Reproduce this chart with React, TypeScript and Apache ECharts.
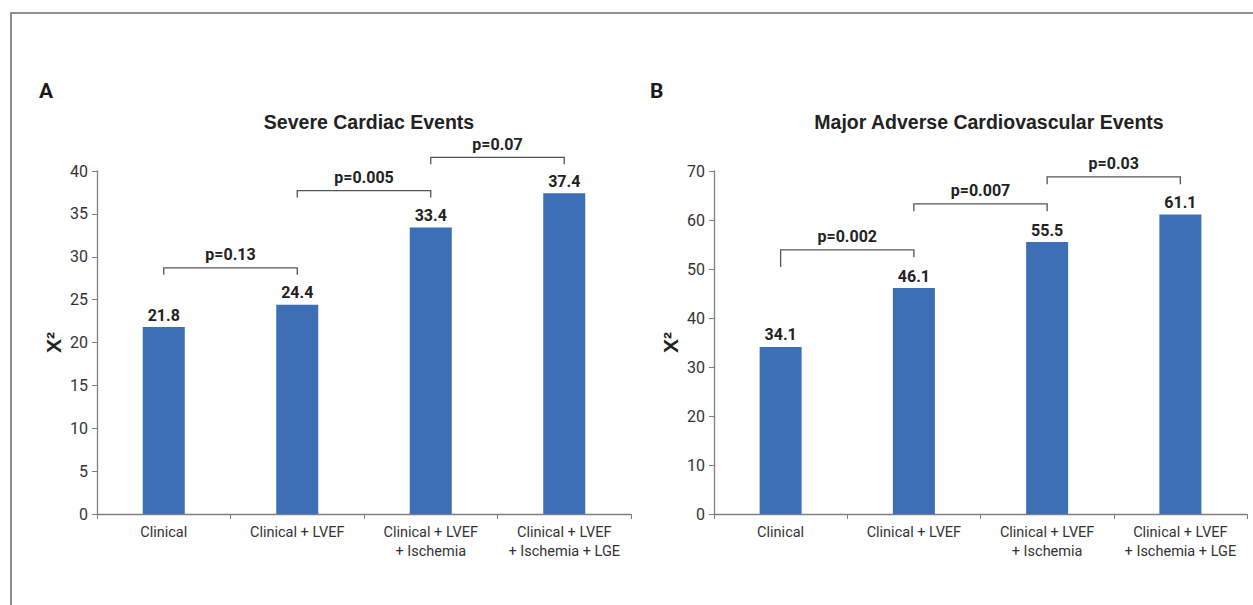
import React, { useEffect, useRef } from "react";
import * as echarts from "echarts";

const categories = ["Clinical", "Clinical + LVEF", "Clinical + LVEF\n+ Ischemia", "Clinical + LVEF\n+ Ischemia + LGE"];
const valuesA = [21.8, 24.4, 33.4, 37.4];
const valuesB = [34.1, 46.1, 55.5, 61.1];
// [fromIndex, toIndex, topValue, leftEndValue, rightEndValue]
const bracketsA = [
  [0, 1, 28.7, 27.9, 27.9],
  [1, 2, 37.7, 36.9, 36.9],
  [2, 3, 41.6, 40.8, 40.8],
];
const bracketLabelsA = ["p=0.13", "p=0.005", "p=0.07"];
const bracketsB = [
  [0, 1, 53.9, 50.4, 52.4],
  [1, 2, 63.3, 61.8, 61.8],
  [2, 3, 68.8, 67.3, 67.3],
];
const bracketLabelsB = ["p=0.002", "p=0.007", "p=0.03"];
const titleA = "Severe Cardiac Events";
const titleB = "Major Adverse Cardiovascular Events";
const yTicksA = { max: 40, interval: 5 };
const yTicksB = { max: 70, interval: 10 };

const NARROW = "Roboto, 'Liberation Sans', sans-serif";
const SANS = "'Liberation Sans', Arial, sans-serif";
const BAR = "#3d6fb7";
const AXIS = "#7f7f7f";

export default function App() {
  const ref = useRef<HTMLDivElement>(null);
  useEffect(() => {
    document.body.style.margin = "0";
    const chart = echarts.init(ref.current!, null, { renderer: "svg" });

    const bracketSeries = (axisIdx: number, data: number[][], labels: string[]) => ({
      type: "custom",
      xAxisIndex: axisIdx,
      yAxisIndex: axisIdx,
      clip: false,
      silent: true,
      encode: { x: [0, 1], y: [2, 3, 4] },
      data,
      renderItem: (params: any, api: any) => {
        const pL = api.coord([api.value(0), api.value(3)]);
        const pT0 = api.coord([api.value(0), api.value(2)]);
        const pT1 = api.coord([api.value(1), api.value(2)]);
        const pR = api.coord([api.value(1), api.value(4)]);
        return {
          type: "group",
          children: [
            {
              type: "polyline",
              shape: { points: [pL, pT0, pT1, pR] },
              style: { stroke: "#555", lineWidth: 1.3, fill: "none" },
            },
            {
              type: "text",
              x: (pT0[0] + pT1[0]) / 2,
              y: pT0[1] - 5,
              style: {
                text: labels[params.dataIndex],
                fontFamily: NARROW,
                fontWeight: "bold",
                fontSize: 16,
                fill: "#222",
                align: "center",
                verticalAlign: "bottom",
              },
            },
          ],
        };
      },
    });

    const xAxis = (gi: number) => ({
      type: "category",
      gridIndex: gi,
      data: categories,
      axisLine: { lineStyle: { color: AXIS, width: 1.3 } },
      axisTick: { show: true, length: 5, alignWithLabel: false, interval: 0, lineStyle: { color: AXIS } },
      axisLabel: {
        interval: 0,
        color: "#333",
        fontFamily: NARROW,
        fontSize: 14.5,
        lineHeight: 19,
        margin: 9,
      },
    });
    const yAxis = (gi: number, t: { max: number; interval: number }) => ({
      type: "value",
      gridIndex: gi,
      min: 0,
      max: t.max,
      interval: t.interval,
      name: "X²",
      nameLocation: "middle",
      nameGap: 33,
      nameTextStyle: { fontFamily: SANS, fontWeight: "bold", fontSize: 21, color: "#222" },
      axisLine: { show: true, lineStyle: { color: AXIS, width: 1.3 } },
      axisTick: { show: true, length: 5, lineStyle: { color: AXIS } },
      splitLine: { show: false },
      axisLabel: { color: "#333", fontFamily: NARROW, fontSize: 16, margin: 9 },
    });
    const barSeries = (gi: number, vals: number[]) => ({
      type: "bar",
      xAxisIndex: gi,
      yAxisIndex: gi,
      data: vals,
      barWidth: 42,
      itemStyle: { color: BAR },
      label: {
        show: true,
        position: "top",
        distance: 4,
        fontFamily: NARROW,
        fontWeight: "bold",
        fontSize: 16,
        color: "#222",
      },
    });

    chart.setOption({
      animation: false,
      backgroundColor: "#fff",
      title: [
        {
          text: titleA,
          left: 364,
          top: 107,
          textAlign: "center",
          textStyle: { fontFamily: SANS, fontWeight: "bold", fontSize: 19.5, color: "#222" },
        },
        {
          text: titleB,
          left: 984,
          top: 107,
          textAlign: "center",
          textStyle: { fontFamily: SANS, fontWeight: "bold", fontSize: 19.5, color: "#222" },
        },
      ],
      grid: [
        { left: 97, top: 171, width: 534, height: 343 },
        { left: 714, top: 171, width: 533, height: 343 },
      ],
      xAxis: [xAxis(0), xAxis(1)],
      yAxis: [yAxis(0, yTicksA), yAxis(1, yTicksB)],
      series: [
        barSeries(0, valuesA),
        barSeries(1, valuesB),
        bracketSeries(0, bracketsA, bracketLabelsA),
        bracketSeries(1, bracketsB, bracketLabelsB),
      ],
      graphic: [
        {
          type: "polyline",
          shape: { points: [[11, 605], [11, 13], [1253, 13]] },
          style: { stroke: "#6e6e6e", lineWidth: 1.5, fill: "none" },
          silent: true,
        },
        {
          type: "text",
          x: 39,
          y: 80,
          style: { text: "A", fontFamily: NARROW, fontWeight: "bold", fontSize: 21, fill: "#1a1a1a" },
        },
        {
          type: "text",
          x: 650,
          y: 80,
          style: { text: "B", fontFamily: NARROW, fontWeight: "bold", fontSize: 21, fill: "#1a1a1a" },
        },
      ],
    });
    return () => chart.dispose();
  }, []);
  return <div ref={ref} style={{ width: 1253, height: 605 }} />;
}
